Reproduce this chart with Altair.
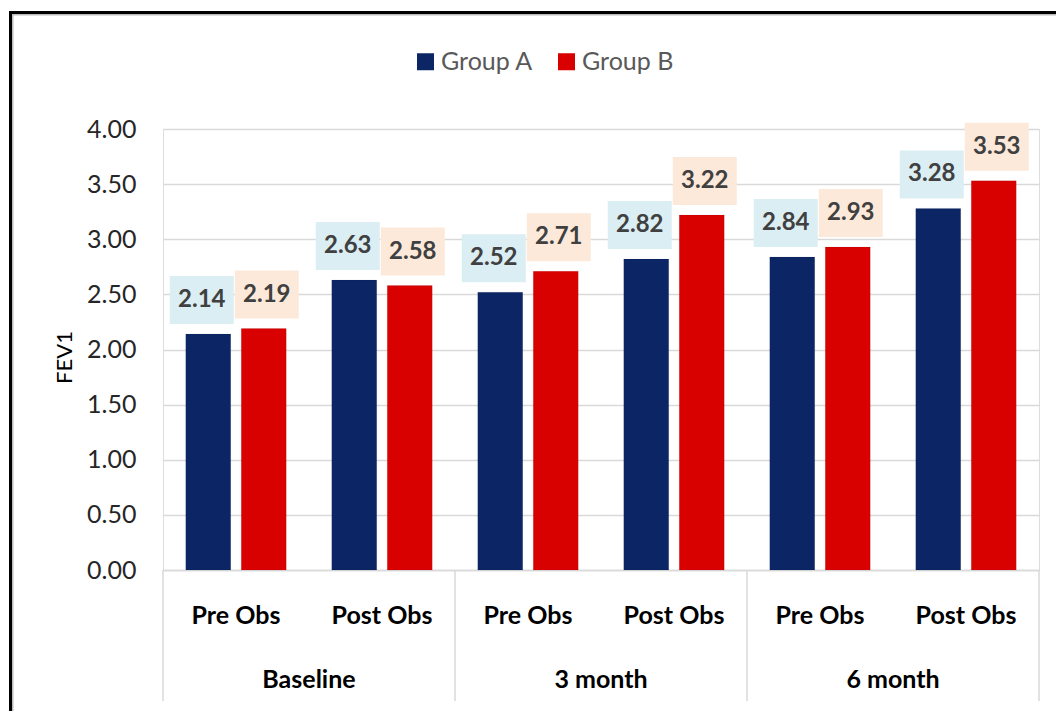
import altair as alt
import pandas as pd

periods = ["Baseline", "3 month", "6 month"]
phases = ["Pre Obs", "Post Obs"]
groups = ["Group A", "Group B"]
group_a = [2.14, 2.63, 2.52, 2.82, 2.84, 3.28]
group_b = [2.19, 2.58, 2.71, 3.22, 2.93, 3.53]
y_ticks = [0.0, 0.5, 1.0, 1.5, 2.0, 2.5, 3.0, 3.5, 4.0]

bar_colors = ["#0B2565", "#D90000"]
box_colors = ["#DBEEF4", "#FDE9DA"]

cats = [f"{p}|{ph}" for p in periods for ph in phases]
rows = []
for i, cat in enumerate(cats):
    rows.append(dict(cat=cat, group="Group A", box="A", value=group_a[i]))
    rows.append(dict(cat=cat, group="Group B", box="B", value=group_b[i]))
df = pd.DataFrame(rows)

W, H = 876, 441
FONT = "Lato"

x_axis = alt.Axis(
    title=None,
    labelExpr="split(datum.label, '|')[1]",
    labelFont=FONT, labelFontSize=25, labelFontWeight="bold", labelColor="#000000",
    labelAngle=0, labelBaseline="alphabetic", labelPadding=53,
    ticks=False, tickSize=0, domain=True, domainColor="#D9D9D9", domainWidth=1.5,
    grid=False,
)
x_scale = alt.Scale(domain=cats, paddingInner=0, paddingOuter=0)


def xenc(band=None):
    kw = dict(sort=cats, scale=x_scale, axis=x_axis, title=None)
    if band is not None:
        kw["bandPosition"] = band
    return alt.X("cat:N", **kw)


y_enc = alt.Y(
    "value:Q",
    title="FEV1",
    scale=alt.Scale(domain=[0, 4], nice=False, zero=True),
    axis=alt.Axis(
        values=y_ticks, format=".2f",
        labelFont=FONT, labelFontSize=25, labelColor="#262626", labelPadding=27,
        ticks=False, domain=False,
        grid=True, gridColor="#D9D9D9", gridWidth=1.5,
        titleFont=FONT, titleFontSize=22, titleFontWeight="normal", titleColor="#000000",
        titleAngle=270, titleAlign="center", titleBaseline="middle",
        titleX=-99, titleY=228,
    ),
)

x_off = alt.XOffset("group:N", scale=alt.Scale(domain=groups, paddingInner=0.19, paddingOuter=0.41))

base = alt.Chart(df)

bars = base.mark_bar(stroke="#00000022", strokeWidth=0.5).encode(
    x=xenc(),
    xOffset=x_off,
    y=y_enc,
    color=alt.Color(
        "group:N",
        scale=alt.Scale(domain=groups, range=bar_colors),
        legend=alt.Legend(
            title=None, orient="none", direction="horizontal",
            legendX=250, legendY=-80,
            symbolType="square", symbolSize=289, symbolStrokeWidth=0,
            labelFont=FONT, labelFontSize=25, labelColor="#595959",
            labelOffset=3, columnPadding=20,
        ),
    ),
)

box_paths = [
    "M-0.385,-0.58 L0.255,-0.58 L0.255,-0.10 L-0.385,-0.10 Z",
    "M-0.29,-0.58 L0.35,-0.58 L0.35,-0.10 L-0.29,-0.10 Z",
]

boxes = base.mark_point(size=40000, filled=True, opacity=1, strokeWidth=0).encode(
    x=xenc(),
    xOffset=x_off,
    y=y_enc,
    shape=alt.Shape("box:N", scale=alt.Scale(domain=["A", "B"], range=box_paths), legend=None),
    fill=alt.Fill("box:N", scale=alt.Scale(domain=["A", "B"], range=box_colors), legend=None),
)


def text_layer(g, dx):
    return base.transform_filter(alt.datum.group == g).mark_text(
        font=FONT, fontSize=24, fontWeight="bold", color="#404040",
        baseline="middle", align="center", dy=-34, dx=dx,
    ).encode(
        x=xenc(),
        xOffset=x_off,
        y=y_enc,
        text=alt.Text("value:Q", format=".2f"),
    )


texts_a = text_layer("Group A", -6.5)
texts_b = text_layer("Group B", 3)

sep_left = pd.DataFrame({"cat": [f"{p}|Pre Obs" for p in periods]})
sep_right = pd.DataFrame({"cat": [f"{periods[-1]}|Post Obs"]})
seps1 = alt.Chart(sep_left).mark_rule(color="#D9D9D9", strokeWidth=1.5).encode(
    x=xenc(0), y=alt.value(H), y2=alt.value(H + 131)
)
seps2 = alt.Chart(sep_right).mark_rule(color="#D9D9D9", strokeWidth=1.5).encode(
    x=xenc(1), y=alt.value(H), y2=alt.value(H + 131)
)

group_df = pd.DataFrame({"cat": [f"{p}|Post Obs" for p in periods], "period": periods})
group_text = alt.Chart(group_df).mark_text(
    font=FONT, fontSize=25, fontWeight="bold", color="#000000",
    baseline="alphabetic", align="center",
).encode(x=xenc(0), y=alt.value(559), text="period:N")

frame_df = pd.DataFrame({"k": [0]})
shadow = alt.Chart(frame_df).mark_rect(filled=False, stroke="#BBBBBB", strokeWidth=2).encode(
    x=alt.value(-150.5), x2=alt.value(900), y=alt.value(-114.5), y2=alt.value(600)
)
frame = alt.Chart(frame_df).mark_rect(filled=False, stroke="#000000", strokeWidth=3).encode(
    x=alt.value(-152.5), x2=alt.value(900), y=alt.value(-116.5), y2=alt.value(600)
)

chart = alt.layer(
    shadow, frame, seps1, seps2, bars, boxes, texts_a, texts_b, group_text
).properties(
    width=W, height=H,
    padding={"left": 163, "top": 129, "right": 17, "bottom": 141},
    autosize=alt.AutoSizeParams(type="none"),
    background="white",
).configure_view(strokeWidth=0).configure(font=FONT)

chart.save("out.html", embed_options={"renderer": "svg", "actions": False})
